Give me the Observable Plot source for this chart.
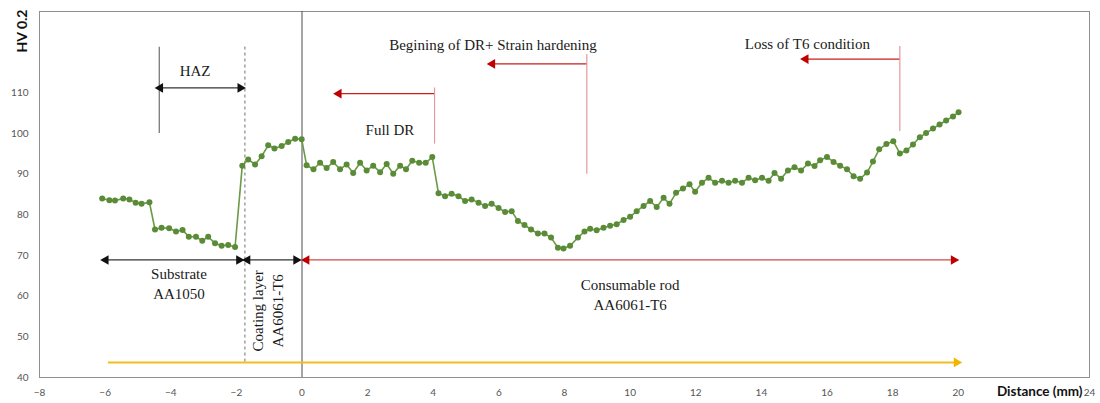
<!DOCTYPE html>
<html>
<head>
<meta charset="utf-8">
<script src="https://cdn.jsdelivr.net/npm/d3@7"></script>
<script src="https://cdn.jsdelivr.net/npm/@observablehq/plot@0.6"></script>
<style>
  body { margin: 0; background: #fff; }
</style>
</head>
<body>
<div id="chart"></div>
<script>
// Microhardness profile across substrate, coating layer and consumable rod
const distance = [
  -6.09, -5.87, -5.70, -5.45, -5.26, -5.07, -4.89, -4.65, -4.48, -4.28,
  -4.05, -3.84, -3.64, -3.45, -3.23, -3.04, -2.86, -2.65, -2.45, -2.25,
  -2.04, -1.82, -1.64, -1.43, -1.23, -1.03, -0.84, -0.62, -0.42, -0.21,
  -0.01, 0.14, 0.35, 0.55, 0.75, 0.95, 1.16, 1.36, 1.56, 1.77,
  1.97, 2.17, 2.38, 2.58, 2.78, 2.99, 3.17, 3.36, 3.57, 3.77,
  3.97, 4.16, 4.36, 4.56, 4.77, 4.97, 5.17, 5.38, 5.58, 5.78,
  5.99, 6.19, 6.39, 6.58, 6.78, 6.98, 7.19, 7.39, 7.59, 7.80,
  7.97, 8.17, 8.41, 8.61, 8.78, 8.98, 9.19, 9.39, 9.59, 9.80,
  10.00, 10.20, 10.41, 10.61, 10.81, 11.02, 11.20, 11.40, 11.61, 11.81,
  11.98, 12.19, 12.39, 12.59, 12.80, 13.00, 13.20, 13.41, 13.61, 13.81,
  14.02, 14.22, 14.40, 14.60, 14.81, 15.01, 15.21, 15.42, 15.62, 15.79,
  16.00, 16.20, 16.40, 16.61, 16.81, 17.01, 17.22, 17.40, 17.59, 17.81,
  18.02, 18.22, 18.42, 18.62, 18.83, 19.02, 19.23, 19.43, 19.63, 19.84,
  20.01
];
const hardness = [
  84.0, 83.6, 83.5, 84.0, 83.8, 83.0, 82.7, 83.1, 76.4, 76.8,
  76.7, 75.9, 76.3, 74.6, 74.6, 73.6, 74.6, 73.0, 72.4, 72.6,
  72.1, 92.1, 93.6, 92.4, 94.4, 97.1, 96.3, 96.9, 97.9, 98.7,
  98.6, 92.2, 91.2, 92.8, 91.5, 93.0, 91.2, 92.4, 90.3, 92.8,
  90.9, 92.1, 90.5, 92.5, 90.1, 92.1, 91.2, 93.3, 92.8, 92.8,
  94.2, 85.3, 84.6, 85.2, 84.6, 83.4, 83.8, 83.0, 82.2, 82.7,
  81.7, 80.7, 80.9, 78.5, 77.5, 76.4, 75.4, 75.4, 74.4, 71.9,
  71.7, 72.4, 74.4, 75.9, 76.6, 76.2, 76.8, 77.3, 77.7, 78.7,
  79.5, 80.9, 82.2, 83.4, 81.9, 84.2, 82.7, 85.4, 86.5, 87.5,
  85.7, 87.9, 89.1, 87.9, 88.4, 87.9, 88.4, 87.9, 89.1, 88.5,
  89.1, 88.4, 90.3, 88.9, 90.9, 91.7, 90.9, 92.6, 92.0, 93.4,
  94.2, 93.0, 92.1, 91.2, 89.5, 88.9, 90.4, 93.1, 96.1, 97.4,
  98.1, 95.1, 95.8, 97.3, 99.1, 100.1, 101.2, 102.2, 103.2, 104.2,
  105.2
];

const xTicks = [-8, -6, -4, -2, 0, 2, 4, 6, 8, 10, 12, 14, 16, 18, 20, 24];
const yTicks = [40, 50, 60, 70, 80, 90, 100, 110];

// Solid vertical guide lines (HAZ start and region markers)
const guides = [
  {x: -4.35, y1: 100, y2: 121.2, stroke: "#6f6f6f"},
  {x: 4.04, y1: 97.4, y2: 111.2, stroke: "#e29a9a"},
  {x: 8.68, y1: 90.0, y2: 119.4, stroke: "#e29a9a"},
  {x: 18.22, y1: 100.5, y2: 121.4, stroke: "#e29a9a"}
];
// Dashed substrate / coating boundary
const boundary = [{x: -1.74, y1: 43.8, y2: 121.4}];

// Horizontal arrows: which ends carry a head
const arrows = [
  {x1: -4.32, x2: -1.88, y: 111.2, start: true, end: true, line: "#333", head: "#111", w: 1.3},
  {x1: -5.98, x2: -1.92, y: 68.9, start: true, end: true, line: "#333", head: "#111", w: 1.3},
  {x1: -1.66, x2: -0.18, y: 68.9, start: true, end: true, line: "#333", head: "#111", w: 1.3},
  {x1: 0.14, x2: 19.86, y: 68.9, start: true, end: true, line: "#d24a4a", head: "#c00000", w: 1.3},
  {x1: 1.12, x2: 4.04, y: 109.8, start: true, end: false, line: "#c81e1e", head: "#c00000", w: 1.3},
  {x1: 5.80, x2: 8.68, y: 117.1, start: true, end: false, line: "#c81e1e", head: "#c00000", w: 1.3},
  {x1: 15.35, x2: 18.22, y: 118.3, start: true, end: false, line: "#c81e1e", head: "#c00000", w: 1.3},
  {x1: -5.90, x2: 19.95, y: 43.7, start: false, end: true, line: "#f2bd1d", head: "#f2b400", w: 2}
];
const heads = arrows.flatMap(a => [
  ...(a.start ? [{x: a.x1, y: a.y, rotate: -90, fill: a.head}] : []),
  ...(a.end ? [{x: a.x2, y: a.y, rotate: 90, fill: a.head}] : [])
]);

const labels = [
  {x: -3.26, y: 115.7, text: "HAZ", rotate: 0},
  {x: -3.75, y: 63.3, text: "Substrate\nAA1050", rotate: 0},
  {x: -1.07, y: 56.4, text: "Coating layer\nAA6061-T6", rotate: -90},
  {x: 10.0, y: 60.7, text: "Consumable rod\nAA6061-T6", rotate: 0},
  {x: 2.68, y: 101.3, text: "Full DR", rotate: 0},
  {x: 5.82, y: 122.2, text: "Begining of DR+ Strain hardening", rotate: 0},
  {x: 15.4, y: 122.4, text: "Loss of T6 condition", rotate: 0}
];

const points = distance.map((d, i) => ({distance: d, hv: hardness[i]}));

const chart = Plot.plot({
  width: 1100,
  height: 403,
  marginLeft: 39,
  marginRight: 11,
  marginTop: 11,
  marginBottom: 26,
  style: {fontFamily: "Lato, sans-serif", background: "#fff"},
  x: {domain: [-8, 24]},
  y: {domain: [40, 130]},
  marks: [
    Plot.frame({stroke: "#8f8f8f"}),
    Plot.axisX({ticks: xTicks, tickSize: 0, tickPadding: 11, label: null, fontSize: 10, color: "#555"}),
    Plot.axisY({ticks: yTicks, tickSize: 0, tickPadding: 11, label: null, fontSize: 10, color: "#555"}),
    Plot.ruleX([0], {stroke: "#4d4d4d", strokeWidth: 1}),
    Plot.ruleX(guides, {x: "x", y1: "y1", y2: "y2", stroke: "stroke", strokeWidth: 1.2}),
    Plot.ruleX(boundary, {x: "x", y1: "y1", y2: "y2", stroke: "#6f6f6f", strokeWidth: 1, strokeDasharray: "3,3"}),
    Plot.ruleY(arrows, {x1: "x1", x2: "x2", y: "y", stroke: "line", strokeWidth: "w"}),
    Plot.dot(heads, {x: "x", y: "y", rotate: "rotate", fill: "fill", symbol: "triangle", r: 3.6, stroke: null}),
    Plot.text(labels, {
      x: "x", y: "y", text: "text", rotate: "rotate",
      fontFamily: "Liberation Serif, Times New Roman, serif", fontSize: 15,
      fill: "#1a1a1a", lineHeight: 1.35
    }),
    Plot.line(points, {x: "distance", y: "hv", stroke: "#6a9a48", strokeWidth: 1.6}),
    Plot.dot(points, {x: "distance", y: "hv", r: 3, fill: "#5a8c37", stroke: null}),
    Plot.text(["HV 0.2"], {
      frameAnchor: "top-left", dx: -22, dy: -2, rotate: -90,
      textAnchor: "end", fontWeight: "bold", fontSize: 14, fill: "#111"
    }),
    Plot.text(["Distance (mm)"], {
      frameAnchor: "bottom-right", dx: -7, dy: 18, textAnchor: "end",
      fontWeight: "bold", fontSize: 13.5, fill: "#111"
    })
  ]
});

document.getElementById("chart").appendChild(chart);
</script>
</body>
</html>
